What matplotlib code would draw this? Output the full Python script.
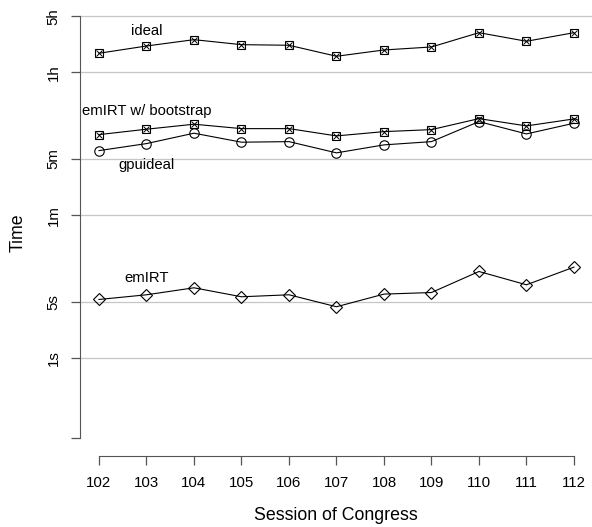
import matplotlib
matplotlib.use('Agg')
import matplotlib.pyplot as plt

sessions = [102, 103, 104, 105, 106, 107, 108, 109, 110, 111, 112]
# times in seconds
ideal = [6218, 7657, 9178, 7955, 7817, 5705, 6832, 7446, 11214, 8767, 11214]
emirt_boot = [604, 705, 814, 717, 717, 582, 658, 697, 955, 775, 947]
gpuideal = [382, 467, 629, 486, 494, 358, 450, 494, 877, 616, 837]
emirt = [5.36, 6.13, 7.49, 5.79, 6.13, 4.35, 6.25, 6.54, 11.95, 8.16, 13.55]

ytick_vals = [0.1, 1, 5, 60, 300, 3600, 18000]
ytick_labels = ['', '1s', '5s', '1m', '5m', '1h', '5h']

plt.rcParams['font.family'] = ['Liberation Sans', 'DejaVu Sans']

fig = plt.figure(figsize=(5.92, 5.27), dpi=100)
ax = fig.add_axes([80/592, 71.3/527, 512/592, 445.7/527])
ax.set_yscale('log')
ax.set_ylim(0.0609, 21480)
ax.set_xlim(101.6, 112.38)

for v, lab in zip(ytick_vals, ytick_labels):
    if lab:
        ax.axhline(v, color='#c6c6c6', lw=0.9, zorder=0)

lw = 0.8
ax.plot(sessions, ideal, color='black', lw=lw, marker='s', ms=5.2, mfc='none', mec='black', mew=0.8)
ax.plot(sessions, ideal, ls='none', marker='x', ms=4.5, mec='black', mew=0.7)
ax.plot(sessions, emirt_boot, color='black', lw=lw, marker='s', ms=5.2, mfc='none', mec='black', mew=0.8)
ax.plot(sessions, emirt_boot, ls='none', marker='x', ms=4.5, mec='black', mew=0.7)
ax.plot(sessions, gpuideal, color='black', lw=lw, marker='o', ms=6.8, mfc='none', mec='black', mew=0.8)
ax.plot(sessions, emirt, color='black', lw=lw, marker='D', ms=6.0, mfc='none', mec='black', mew=0.8)

tfs = 10.7
ax.text(103, 11776, 'ideal', ha='center', va='center', fontsize=tfs)
ax.text(103, 1191, 'emIRT w/ bootstrap', ha='center', va='center', fontsize=tfs)
ax.text(103, 254, 'gpuideal', ha='center', va='center', fontsize=tfs)
ax.text(103, 9.97, 'emIRT', ha='center', va='center', fontsize=tfs)

for s in ['top', 'right']:
    ax.spines[s].set_visible(False)
ax.spines['left'].set_bounds(0.1, 18000)
ax.spines['left'].set_color('#555555')
ax.spines['bottom'].set_bounds(102, 112)
ax.spines['bottom'].set_color('#555555')

ax.set_yticks(ytick_vals)
ax.set_yticklabels(ytick_labels)
ax.yaxis.set_minor_locator(matplotlib.ticker.NullLocator())
ax.tick_params(axis='y', length=6.5, width=0.9, color='#555555', labelsize=10.8, pad=7.5, labelrotation=90)
for t in ax.get_yticklabels():
    t.set_va('center')
ax.set_xticks(sessions)
ax.set_xticklabels([str(s) for s in sessions])
ax.tick_params(axis='x', length=6.3, width=0.9, color='#555555', labelsize=10.8, pad=8.5)

ax.set_xlabel('Session of Congress', fontsize=12.8, labelpad=12)
ax.set_ylabel('Time', fontsize=12.8, labelpad=14)

fig.savefig('out.png', dpi=100)
